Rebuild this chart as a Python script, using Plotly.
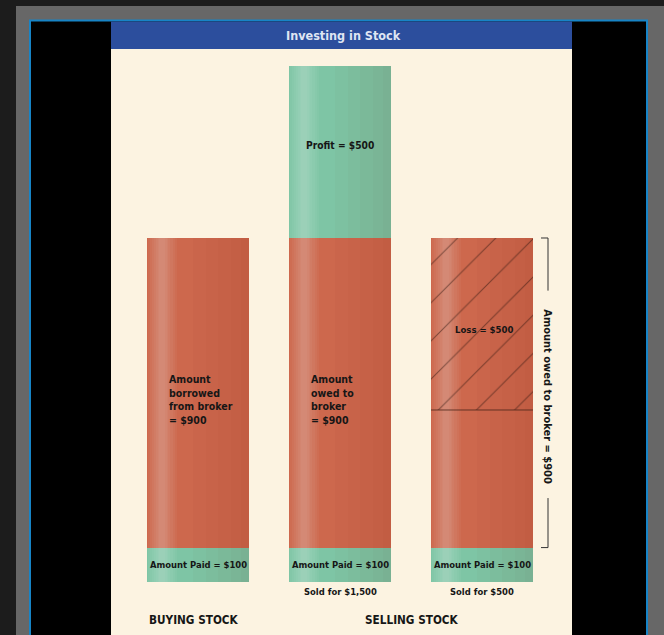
import plotly.graph_objects as go

W, H = 664, 635

# ---------------- data ----------------
categories = [0, 1, 2]            # Buying, Selling (gain), Selling (loss)
amount_paid = [100, 100, 100]
loan = [900, 900, 900]
loss = [0, 0, 500]
profit = [0, 500, 0]
sold_for = [None, 1500, 500]

paid_labels = ["Amount Paid = $100", "Amount Paid = $100", "Amount Paid = $100"]
loan_labels = ["Amount<br>borrowed<br>from broker<br>= $900", "Amount<br>owed to<br>broker<br>= $900", ""]
group_labels = ["BUYING STOCK", "SELLING STOCK"]
title_text = "Investing in Stock"
side_label = "Amount owed to broker = $900"

# derived
owed_remaining = [l - s for l, s in zip(loan, loss)]
base_owed = amount_paid
base_loss = [p + o for p, o in zip(amount_paid, owed_remaining)]
base_profit = [p + l for p, l in zip(amount_paid, loan)]
totals = [p + l + pr for p, l, pr in zip(amount_paid, loan, profit)]

RED = "#cd684d"
GREEN = "#7ec5a5"
FONT = "Liberation Sans Narrow, DejaVu Sans Condensed, Arial Narrow, sans-serif"
INK = "#161616"


def px(x):
    return x / W


def py(y):
    return 1 - y / H


fig = go.Figure()
bw = 0.718


def seg(y, base, color, **kw):
    fig.add_trace(go.Bar(x=categories, y=y, base=base, width=bw, hoverinfo="skip",
                         marker=dict(color=color, line=dict(width=0), **kw)))


seg(amount_paid, [0, 0, 0], GREEN)
seg(owed_remaining, base_owed, RED)
seg(profit, base_profit, GREEN)
seg(loss, base_loss, RED)

# soft shading to give the bars their lit, rounded look
shade = []
for hw in [0.14, 0.12, 0.10, 0.08, 0.06, 0.045, 0.03]:
    c = 0.15
    shade.append((max(0.0, c - hw), c + hw, "rgba(255,255,255,0.04)"))
for f0 in [0.45, 0.58, 0.70, 0.82, 0.92]:
    shade.append((f0, 1.0, "rgba(90,20,0,0.018)"))
for f0, f1, col in shade:
    fig.add_trace(go.Bar(x=categories, y=totals, base=[0, 0, 0], width=bw * (f1 - f0),
                         offset=-bw / 2 + bw * f0, hoverinfo="skip",
                         marker=dict(color=col, line=dict(width=0))))

# hatching on the loss segment
fig.add_trace(go.Bar(x=categories, y=loss, base=base_loss, width=bw, hoverinfo="skip",
                     marker=dict(color="rgba(0,0,0,0)", line=dict(width=0),
                                 pattern=dict(shape="/", fgcolor="#2c150e", fillmode="overlay",
                                              size=27, solidity=0.04))))

shapes = []
# frame
shapes.append(dict(type="rect", xref="paper", yref="paper", x0=px(16), x1=1, y0=0, y1=py(6),
                   fillcolor="#676767", line=dict(width=0), layer="below"))
shapes.append(dict(type="rect", xref="paper", yref="paper", x0=px(30), x1=px(647), y0=py(640), y1=py(20.5),
                   fillcolor="#000000", line=dict(color="#1784c6", width=2), layer="below"))
shapes.append(dict(type="rect", xref="paper", yref="paper", x0=px(111), x1=px(572), y0=py(49), y1=py(21.5),
                   fillcolor="#2c4e9d", line=dict(width=0), layer="below"))
shapes.append(dict(type="rect", xref="paper", yref="paper", x0=px(111), x1=px(572), y0=0, y1=py(49),
                   fillcolor="#fcf3e1", line=dict(width=0), layer="below"))

# boundary line under the hatched loss segment
for i, s in enumerate(loss):
    if s:
        shapes.append(dict(type="line", xref="x", yref="y", x0=categories[i] - bw / 2, x1=categories[i] + bw / 2,
                           y0=base_loss[i], y1=base_loss[i], line=dict(color="#4a2519", width=0.8)))

# bracket for amount owed to broker (bar 3)
yb0 = amount_paid[2]
yb1 = amount_paid[2] + loan[2]
bx = px(548)
bxl = px(541)
BR = dict(color="#333333", width=1)
shapes += [
    dict(type="line", xref="paper", yref="y", x0=bxl, x1=bx, y0=yb1, y1=yb1, line=BR),
    dict(type="line", xref="paper", yref="y", x0=bxl, x1=bx, y0=yb0, y1=yb0, line=BR),
    dict(type="line", xref="paper", yref="y", x0=bx, x1=bx, y0=yb1, y1=yb1 - 0.17 * loan[2], line=BR),
    dict(type="line", xref="paper", yref="y", x0=bx, x1=bx, y0=yb0, y1=yb0 + 0.16 * loan[2], line=BR),
]

ann = []
ann.append(dict(xref="paper", yref="paper", x=px(343), y=py(35), xanchor="center", yanchor="middle",
                text=f"<b>{title_text}</b>", showarrow=False,
                font=dict(family=FONT, size=12.5, color="#dfe5f3")))
for i in categories:
    ann.append(dict(x=i, y=amount_paid[i] / 2, text=f"<b>{paid_labels[i]}</b>", showarrow=False,
                    font=dict(family=FONT, size=9.4, color=INK)))
    if loan_labels[i]:
        ann.append(dict(x=i - 0.215, xanchor="left", y=amount_paid[i] + loan[i] * 0.5 - 20,
                        text=f"<b>{loan_labels[i]}</b>", showarrow=False, align="left",
                        font=dict(family=FONT, size=10.5, color=INK)))
    if profit[i]:
        ann.append(dict(x=i, y=base_profit[i] + profit[i] * 0.5 + 20, text=f"<b>Profit = ${profit[i]}</b>",
                        showarrow=False, font=dict(family=FONT, size=10.2, color=INK)))
    if loss[i]:
        ann.append(dict(x=i + 0.014, y=base_loss[i] + loss[i] * 0.47,
                        text=f"<b>Loss = ${loss[i]}</b>",
                        showarrow=False, font=dict(family=FONT, size=9.5, color=INK)))
    if sold_for[i]:
        ann.append(dict(x=i, y=-27, yanchor="middle", text=f"<b>Sold for ${sold_for[i]:,}</b>", showarrow=False,
                        font=dict(family=FONT, size=9.4, color=INK)))

ann.append(dict(x=-0.03, y=-111, yanchor="middle", text=f"<b>{group_labels[0]}</b>", showarrow=False,
                font=dict(family=FONT, size=11.7, color=INK)))
ann.append(dict(x=1.51, y=-111, yanchor="middle", text=f"<b>{group_labels[1]}</b>", showarrow=False,
                font=dict(family=FONT, size=11.7, color=INK)))
ann.append(dict(xref="paper", yref="y", x=px(548), y=yb0 + loan[2] * 0.5 - 10, xanchor="center", yanchor="middle",
                text=f"<b>{side_label}</b>", textangle=90, showarrow=False,
                font=dict(family=FONT, size=11, color=INK)))

fig.update_layout(
    width=W, height=H, margin=dict(l=0, r=0, t=0, b=0),
    paper_bgcolor="#1c1c1c", plot_bgcolor="rgba(0,0,0,0)",
    barmode="overlay", bargap=0, showlegend=False, hovermode=False,
    xaxis=dict(domain=[px(111), px(572)], range=[-0.6127, 2.6338], visible=False, fixedrange=True),
    yaxis=dict(domain=[0, py(50)], range=[-154.1, 1546.5], visible=False, fixedrange=True),
    shapes=shapes, annotations=ann,
)

fig.write_html("out.html", config={"displayModeBar": False},
               post_script="document.body.style.margin='0';document.body.style.overflow='hidden';")
